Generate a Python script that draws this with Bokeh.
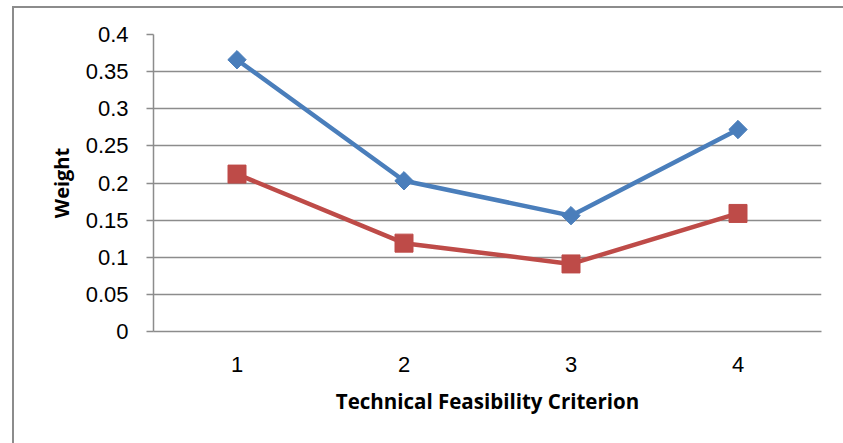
import math
from bokeh.plotting import figure
from bokeh.models import Range1d, FixedTicker, InlineStyleSheet
from bokeh.embed import file_html
from bokeh.resources import INLINE

# Technical feasibility criterion weights, two series
criteria = [1, 2, 3, 4]
weights_a = [0.366, 0.203, 0.156, 0.272]
weights_b = [0.212, 0.119, 0.091, 0.159]
y_ticks = [0, 0.05, 0.1, 0.15, 0.2, 0.25, 0.3, 0.35, 0.4]
y_tick_labels = ["0", "0.05", "0.1", "0.15", "0.2", "0.25", "0.3", "0.35", "0.4"]

BLUE = "#4A7EBB"
RED = "#BE4B48"
GRID = "#8C8C8C"
TITLE_FONT = "Open Sans"

p = figure(width=843, height=443, output_backend="svg", toolbar_location=None,
           x_range=Range1d(0.5, 4.5), y_range=Range1d(0, 0.4),
           min_border_left=153, min_border_right=22,
           min_border_top=34, min_border_bottom=112)
p.outline_line_color = None
p.background_fill_color = "white"
p.border_fill_color = "white"

# outer chart-area border drawn around the whole figure
p.stylesheets = [InlineStyleSheet(css="""
:host::after {
  content: '';
  position: absolute;
  left: 12px; top: 6px;
  width: 1000px; height: 1000px;
  border: 2px solid #8C8C8C;
  box-sizing: border-box;
  pointer-events: none;
}
""")]

p.line(criteria, weights_a, line_color=BLUE, line_width=4.5)
p.scatter(criteria, weights_a, marker="square", size=13, angle=math.pi / 4,
          fill_color=BLUE, line_color=BLUE)
p.line(criteria, weights_b, line_color=RED, line_width=4.5)
p.scatter(criteria, weights_b, marker="square", size=18, fill_color=RED,
          line_color=RED)

# grid
p.xgrid.grid_line_color = None
p.ygrid.grid_line_color = GRID
p.ygrid.grid_line_width = 1.5
p.ygrid.ticker = FixedTicker(ticks=y_ticks)

# y axis
p.yaxis.ticker = FixedTicker(ticks=y_ticks)
p.yaxis.major_label_overrides = {t: s for t, s in zip(y_ticks, y_tick_labels)}
p.yaxis.axis_line_color = GRID
p.yaxis.axis_line_width = 1.5
p.yaxis.major_tick_line_color = GRID
p.yaxis.major_tick_line_width = 1.5
p.yaxis.major_tick_out = 7
p.yaxis.major_tick_in = 0
p.yaxis.minor_tick_line_color = None
p.yaxis.major_label_standoff = 18
p.yaxis.major_label_text_font = "Liberation Sans"
p.yaxis.major_label_text_font_size = "22px"
p.yaxis.major_label_text_color = "black"
p.yaxis.axis_label = "Weight"
p.yaxis.axis_label_text_font = TITLE_FONT
p.yaxis.axis_label_text_font_style = "bold"
p.yaxis.axis_label_text_font_size = "20px"
p.yaxis.axis_label_text_color = "black"
p.yaxis.axis_label_standoff = 8

# x axis
p.xaxis.ticker = FixedTicker(ticks=criteria)
p.xaxis.axis_line_color = GRID
p.xaxis.axis_line_width = 1.5
p.xaxis.major_tick_line_color = None
p.xaxis.minor_tick_line_color = None
p.xaxis.major_label_standoff = 19
p.xaxis.major_label_text_font = "Liberation Sans"
p.xaxis.major_label_text_font_size = "22px"
p.xaxis.major_label_text_color = "black"
p.xaxis.axis_label = "Technical Feasibility Criterion"
p.xaxis.axis_label_text_font = TITLE_FONT
p.xaxis.axis_label_text_font_style = "bold"
p.xaxis.axis_label_text_font_size = "20.5px"
p.xaxis.axis_label_text_color = "black"
p.xaxis.axis_label_standoff = 12

open("out.html", "w").write(file_html(p, INLINE))
